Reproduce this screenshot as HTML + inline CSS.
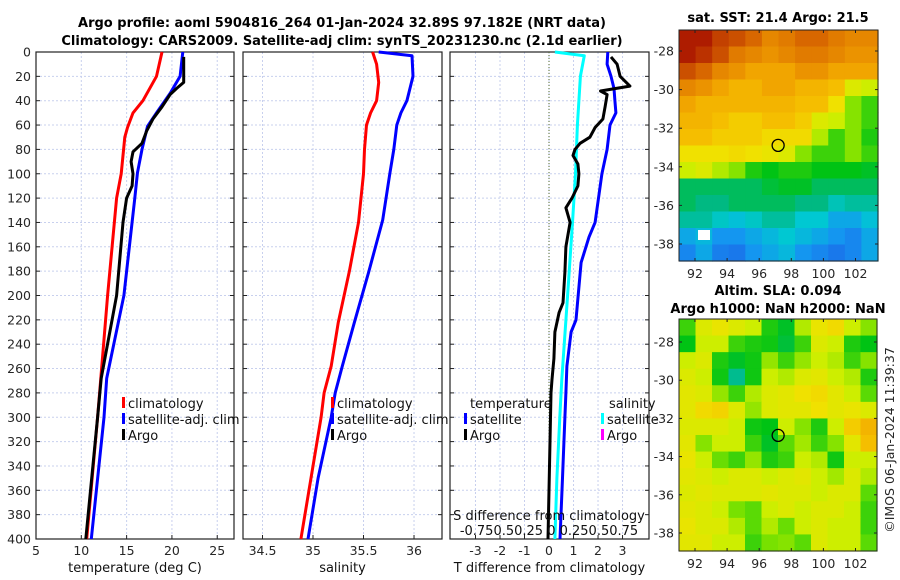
<!DOCTYPE html>
<html><head><meta charset="utf-8">
<style>
html,body{margin:0;padding:0;background:#fff;}
svg{display:block;font-family:"DejaVu Sans","Liberation Sans",sans-serif;}
.tk{font-size:12.5px;fill:#262626;}
.ttl{font-size:13px;font-weight:bold;fill:#000;}
.lg{font-size:13px;fill:#111;}
</style></head>
<body>
<svg id="fig" width="900" height="580" viewBox="0 0 900 580" xmlns="http://www.w3.org/2000/svg">
<text class="ttl" x="342" y="27" text-anchor="middle">Argo profile: aoml 5904816_264 01-Jan-2024 32.89S 97.182E (NRT data)</text>
<text class="ttl" x="342" y="45" text-anchor="middle">Climatology: CARS2009. Satellite-adj clim: synTS_20231230.nc (2.1d earlier)</text>
<g id="p1"></g>
<g id="p2"></g>
<g id="p3"></g>
<g id="m1"></g>
<g id="m2"></g>
<text class="ttl" x="778" y="22" text-anchor="middle">sat. SST: 21.4 Argo: 21.5</text>
<text class="ttl" x="778" y="295" text-anchor="middle">Altim. SLA: 0.094</text>
<text class="ttl" x="778" y="313" text-anchor="middle">Argo h1000: NaN h2000: NaN</text>
<text class="tk" x="0" y="0" transform="translate(894,440) rotate(-90)" text-anchor="middle">©IMOS 06-Jan-2024 11:39:37</text>
</svg>
<script>
// ---- profile data ----
const yTicks = [0,20,40,60,80,100,120,140,160,180,200,220,240,260,280,300,320,340,360,380,400];
const tTicks = [5,10,15,20,25];
const sTicks = [34.5,35,35.5,36];
const dTicks = [-3,-2,-1,0,1,2,3];
const climTDepth = [0,20,40,50,62,70,100,120,200,300,400];
const climT = [18.9,18.3,16.8,15.7,15.1,14.8,14.4,13.9,12.9,11.8,10.6];
const satTDepth = [0,20,34,50,61,80,99,120,200,268,300,400];
const satT = [21.2,20.9,19.8,18.3,17.3,16.7,16.2,15.9,14.7,12.8,12.5,11.1];
const argoTDepth = [4,15,25,30,35,45,55,65,75,82,90,100,110,120,140,200,268,300,400];
const argoT = [21.3,21.3,21.3,20.5,19.8,18.9,17.9,17.2,16.7,15.7,15.5,15.7,15.6,15.0,14.6,13.9,12.2,11.8,10.5];
const climSDepth = [0,10,25,40,50,60,80,100,140,180,222,258,280,300,350,400];
const climS = [35.59,35.63,35.65,35.63,35.57,35.53,35.51,35.50,35.45,35.36,35.25,35.18,35.11,35.08,34.98,34.88];
const satSDepth = [0,3,20,40,50,60,80,100,138,181,222,258,280,300,350,400];
const satS = [35.65,35.98,35.99,35.93,35.87,35.83,35.80,35.76,35.69,35.55,35.41,35.29,35.22,35.18,35.05,34.95];
const argoDTDepth = [4,10,20,28,32,35,45,55,62,70,75,80,85,92,100,110,120,128,140,160,181,206,214,230,252,269,280,320,360,400];
const argoDT = [2.53,2.78,2.9,3.3,2.1,2.37,2.29,2.2,1.88,1.67,1.27,1.06,0.98,1.18,1.22,1.18,0.94,0.69,0.86,0.69,0.65,0.57,0.41,0.24,0.2,0.12,0.08,0.04,0.0,-0.04];
const satDTDepth = [0,10,20,30,40,50,60,80,100,140,152,173,220,230,258,280,300,350,400];
const satDT = [2.4,2.37,2.53,2.65,2.69,2.73,2.49,2.37,2.16,1.88,1.63,1.31,1.1,0.9,0.73,0.69,0.65,0.55,0.45];
const satDSDepth = [0,3,20,60,100,140,200,269,300,350,400];
const satDS = [0.06,0.36,0.32,0.29,0.27,0.24,0.19,0.13,0.11,0.08,0.06];

const NS = 'http://www.w3.org/2000/svg';
function mk(tag, attrs, parent){const e=document.createElementNS(NS,tag);for(const k in attrs)e.setAttribute(k,attrs[k]);parent.appendChild(e);return e;}
const Y0=52, Y1=539;
function yScale(d){return Y0+(d/400)*(Y1-Y0);}

function panel(g, x0, x1, vmin, vmax, xt, xlabel, name){
  const xs = v => x0+(v-vmin)/(vmax-vmin)*(x1-x0);
  yTicks.forEach(t=>{
    const l=mk('line',{x1:x0,x2:x1,y1:yScale(t),y2:yScale(t),stroke:'#c8d0ee','stroke-width':1,'stroke-dasharray':'2,2'},g);
    
    
  });
  xt.forEach(t=>{
    const l=mk('line',{x1:xs(t),x2:xs(t),y1:Y0,y2:Y1,stroke:'#c8d0ee','stroke-width':1,'stroke-dasharray':'2,2'},g);
    
    
    const tx=mk('text',{x:xs(t),y:555,'text-anchor':'middle',class:'tk'},g);
    tx.textContent = String(t);
    
    
    mk('line',{x1:xs(t),x2:xs(t),y1:Y1,y2:Y1-4,stroke:'#222'},g);
  });
  yTicks.forEach(t=>{
    mk('line',{x1:x0,x2:x0+4,y1:yScale(t),y2:yScale(t),stroke:'#222'},g);
    mk('line',{x1:x1,x2:x1-4,y1:yScale(t),y2:yScale(t),stroke:'#222'},g);
  });
  const r=mk('rect',{x:x0,y:Y0,width:x1-x0,height:Y1-Y0,fill:'none',stroke:'#222','stroke-width':1.2},g);
  
  
  const lb=mk('text',{x:(x0+x1)/2,y:572,'text-anchor':'middle',class:'lg'},g);
  lb.textContent=xlabel;
  
  
  return xs;
}
function line(g, xs, depths, vals, color, name, w){
  const pts = depths.map((d,i)=>xs(vals[i]).toFixed(1)+','+yScale(d).toFixed(1)).join(' ');
  const p=mk('polyline',{points:pts,fill:'none',stroke:color,'stroke-width':w||3,'stroke-linejoin':'round'},g);
  
  
}
function legendEntry(g,x,y,color,label,name){
  mk('rect',{x:x,y:y-11,width:3,height:11,fill:color},g);
  const t=mk('text',{x:x+6,y:y,class:'lg'},g);
  t.textContent=label;
  
  
}

const g1=document.getElementById('p1');
const xs1=panel(g1,36,234,5,26.85,tTicks,'temperature (deg C)','temp');
yTicks.forEach(t=>{
  const tx=mk('text',{x:31,y:yScale(t)+4.5,'text-anchor':'end',class:'tk'},g1);
  tx.textContent=String(t);
  
  
});
line(g1,xs1,climTDepth,climT,'#ff0000','temp-climatology-line');
line(g1,xs1,satTDepth,satT,'#0000ff','temp-satellite-adj-line');
line(g1,xs1,argoTDepth,argoT,'#000000','temp-argo-line');
legendEntry(g1,122,408,'#ff0000','climatology','legend-climatology');
legendEntry(g1,122,424,'#0000ff','satellite-adj. clim','legend-satellite-adj');
legendEntry(g1,122,440,'#000000','Argo','legend-argo');

const g2=document.getElementById('p2');
const xs2=panel(g2,243,442,34.307,36.277,sTicks,'salinity','salinity');
line(g2,xs2,climSDepth,climS,'#ff0000','sal-climatology-line');
line(g2,xs2,satSDepth,satS,'#0000ff','sal-satellite-adj-line');
legendEntry(g2,331,408,'#ff0000','climatology','legend2-climatology');
legendEntry(g2,331,424,'#0000ff','satellite-adj. clim','legend2-satellite-adj');
legendEntry(g2,331,440,'#000000','Argo','legend2-argo');

const g3=document.getElementById('p3');
const xs3=panel(g3,450,649,-4.04,4.08,dTicks,'T difference from climatology','diff');
const zl=mk('line',{x1:xs3(0),x2:xs3(0),y1:Y0,y2:Y1,stroke:'#556b2f','stroke-width':1,'stroke-dasharray':'1,2'},g3);


const xsS = v => xs3(v*4);
line(g3,xsS,satDSDepth,satDS,'#00ffff','sal-diff-satellite-line');
line(g3,xs3,satDTDepth,satDT,'#0000ff','temp-diff-satellite-line');
line(g3,xs3,argoDTDepth,argoDT,'#000000','temp-diff-argo-line');
const lt=mk('text',{x:470,y:408,class:'lg'},g3); lt.textContent='temperature';


const ls=mk('text',{x:609,y:408,class:'lg'},g3); ls.textContent='salinity';


legendEntry(g3,464,424,'#0000ff','satellite','legend3-temp-satellite');
legendEntry(g3,464,440,'#000000','Argo','legend3-temp-argo');
legendEntry(g3,601,424,'#00ffff','satellite','legend3-sal-satellite');
legendEntry(g3,601,440,'#ff00ff','Argo','legend3-sal-argo');
const st=mk('text',{x:549,y:520,'text-anchor':'middle',class:'lg'},g3); st.textContent='S difference from climatology';


const sl=mk('text',{x:549,y:535,'text-anchor':'middle',class:'lg'},g3); sl.textContent='-0.750.50.25 0 0.250.50.75';



// ---- maps ----
const latTicks=[-28,-30,-32,-34,-36,-38];
const lonTicks=[92,94,96,98,100,102];
const sstGrid=[
[.95,.95,.9,.88,.85,.8,.82,.85,.85,.82,.8,.8],
[.95,.92,.88,.82,.8,.78,.8,.82,.82,.8,.78,.78],
[.88,.85,.8,.78,.75,.75,.75,.78,.78,.75,.75,.75],
[.8,.78,.75,.72,.72,.75,.75,.72,.72,.7,.62,.6],
[.75,.72,.72,.72,.72,.72,.72,.7,.7,.65,.55,.5],
[.72,.72,.7,.68,.68,.7,.7,.68,.62,.6,.55,.5],
[.7,.7,.68,.68,.68,.66,.66,.66,.58,.5,.55,.48],
[.65,.65,.65,.66,.65,.64,.62,.55,.5,.5,.55,.5],
[.6,.62,.58,.55,.48,.46,.48,.48,.46,.46,.46,.45],
[.42,.42,.42,.42,.42,.44,.45,.45,.42,.42,.42,.42],
[.42,.4,.4,.42,.42,.42,.42,.4,.4,.36,.38,.38],
[.38,.38,.35,.33,.35,.38,.38,.34,.34,.3,.3,.33],
[.3,.32,.28,.28,.3,.32,.34,.32,.3,.28,.26,.3],
[.26,.3,.25,.24,.28,.3,.32,.28,.26,.24,.26,.3]];
const slaGrid=[
[.5,.62,.64,.62,.6,.48,.45,.58,.64,.66,.6,.55],
[.46,.6,.6,.5,.48,.47,.44,.5,.62,.6,.48,.46],
[.6,.62,.48,.45,.47,.56,.5,.56,.6,.58,.5,.55],
[.62,.6,.47,.39,.47,.6,.58,.62,.63,.6,.58,.48],
[.63,.62,.56,.5,.58,.62,.63,.65,.66,.63,.6,.52],
[.63,.66,.67,.62,.56,.62,.63,.63,.65,.63,.64,.62],
[.62,.62,.62,.6,.47,.46,.6,.55,.48,.6,.68,.72],
[.63,.55,.6,.6,.5,.45,.52,.57,.5,.55,.63,.7],
[.64,.6,.53,.5,.56,.48,.5,.6,.58,.47,.6,.6],
[.63,.62,.6,.62,.62,.6,.62,.63,.6,.57,.62,.58],
[.62,.63,.62,.62,.62,.63,.62,.62,.6,.62,.62,.52],
[.63,.62,.6,.54,.52,.6,.62,.6,.62,.62,.6,.5],
[.64,.62,.62,.58,.52,.58,.53,.6,.62,.6,.6,.5],
[.63,.63,.6,.6,.5,.54,.55,.52,.62,.6,.6,.52]];
const floatLon=[97.18], floatLat=[-32.89];
const stops=[[0.2,[30,90,230]],[0.28,[20,150,240]],[0.34,[0,200,210]],[0.4,[0,185,130]],[0.46,[0,195,20]],[0.54,[120,225,0]],[0.6,[205,238,0]],[0.65,[240,225,0]],[0.7,[245,190,0]],[0.76,[240,160,0]],[0.84,[220,110,0]],[0.96,[170,20,0]]];
function cmap(v){
  if(v<=stops[0][0])return 'rgb('+stops[0][1]+')';
  for(let i=1;i<stops.length;i++){if(v<=stops[i][0]){const a=stops[i-1],b=stops[i],f=(v-a[0])/(b[0]-a[0]);
    return 'rgb('+a[1].map((c,k)=>Math.round(c+(b[1][k]-c)*f)).join(',')+')';}}
  return 'rgb('+stops[stops.length-1][1]+')';
}
function mapPanel(g,grid,x0,x1,y0,y1,lat28y,lat38y,name){
  const lonx = lon => 695+(lon-92)*16.05;
  const laty = lat => lat28y+(-28-lat)*(lat38y-lat28y)/10;
  const rows=grid.length, cols=grid[0].length, cw=(x1-x0)/cols, ch=(y1-y0)/rows;
  grid.forEach((row,r)=>row.forEach((v,c)=>{
    const cell=mk('rect',{x:(x0+c*cw).toFixed(2),y:(y0+r*ch).toFixed(2),width:(cw+0.6).toFixed(2),height:(ch+0.6).toFixed(2),fill:cmap(v)},g);
    
    
  }));
  mk('rect',{x:x0,y:y0,width:x1-x0,height:y1-y0,fill:'none',stroke:'#222','stroke-width':1},g);
  latTicks.forEach(t=>{
    mk('line',{x1:x0,x2:x0+3,y1:laty(t),y2:laty(t),stroke:'#222'},g);
    mk('line',{x1:x1,x2:x1-3,y1:laty(t),y2:laty(t),stroke:'#222'},g);
    const tx=mk('text',{x:x0-5,y:laty(t)+4.5,'text-anchor':'end',class:'tk'},g);
    tx.textContent=String(t);
    
    
  });
  lonTicks.forEach(t=>{
    mk('line',{x1:lonx(t),x2:lonx(t),y1:y1,y2:y1-3,stroke:'#222'},g);
    mk('line',{x1:lonx(t),x2:lonx(t),y1:y0,y2:y0+3,stroke:'#222'},g);
    const tx=mk('text',{x:lonx(t),y:y1+17,'text-anchor':'middle',class:'tk'},g);
    tx.textContent=String(t);
    
    
  });
  floatLon.forEach((lo,i)=>{
    const c=mk('circle',{cx:lonx(lo),cy:laty(floatLat[i]),r:6,fill:'none',stroke:'#000','stroke-width':1.3},g);
    
    
  });
}
mapPanel(document.getElementById('m1'),sstGrid,679,878,30,261,51,244,'sst');
mapPanel(document.getElementById('m2'),slaGrid,679,877,319,551,342,533,'sla');
const gap=mk('rect',{x:698,y:230,width:12,height:10,fill:'#fff'},document.getElementById('m1'));


</script>
</body></html>
